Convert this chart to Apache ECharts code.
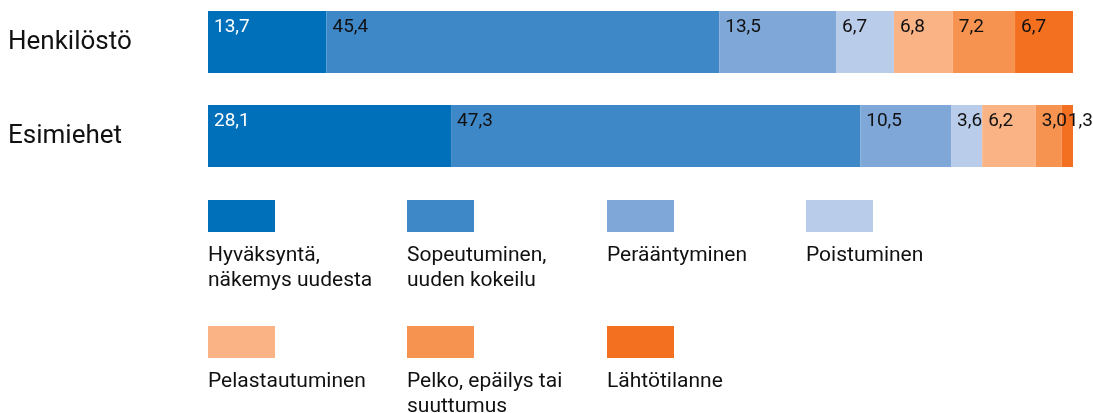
<!DOCTYPE html>
<html><head><meta charset="utf-8">
<script src="https://cdn.jsdelivr.net/npm/echarts@6/dist/echarts.min.js"></script>
<style>html,body{margin:0;padding:0;background:#fff;overflow:hidden}#c{position:absolute;left:0;top:-5px;width:1093px;height:418px}</style>
</head><body><div id="c"></div>
<script>
const categories = ['Henkilöstö', 'Esimiehet'];
const seriesNames = ['Hyväksyntä,\nnäkemys uudesta', 'Sopeutuminen,\nuuden kokeilu', 'Perääntyminen', 'Poistuminen', 'Pelastautuminen', 'Pelko, epäilys tai\nsuuttumus', 'Lähtötilanne'];
const colors = ['#0070ba', '#3f88c8', '#7fa8d8', '#b9cce9', '#fab385', '#f79350', '#f37021'];
const hyvaksynta = [13.7, 28.1];
const sopeutuminen = [45.4, 47.3];
const peraantyminen = [13.5, 10.5];
const poistuminen = [6.7, 3.6];
const pelastautuminen = [6.8, 6.2];
const pelko = [7.2, 3.0];
const lahtotilanne = [6.7, 1.3];
const values = [hyvaksynta, sopeutuminen, peraantyminen, poistuminen, pelastautuminen, pelko, lahtotilanne];

const FONT = 'Roboto';
const OFF = 5; // container shifted up by 5px
const series = values.map((v, i) => ({
  name: seriesNames[i],
  type: 'bar',
  stack: 'total',
  barWidth: 62,
  data: v,
  itemStyle: { color: colors[i] },
  label: {
    show: true,
    position: 'insideTopLeft',
    distance: 0,
    padding: [7, 0, 0, 6],
    formatter: p => p.value.toFixed(1).replace('.', ','),
    color: i === 0 ? '#fff' : '#111',
    fontFamily: FONT,
    fontSize: 19
  }
}));

const graphic = [];
const colX = [208, 407, 607, 806];
seriesNames.forEach((n, i) => {
  const row = Math.floor(i / 4), col = i % 4;
  const x = colX[col];
  const y = 200 + row * 126 + OFF;
  graphic.push({ type: 'rect', left: x, top: y, shape: { width: 67, height: 32 }, style: { fill: colors[i] } });
  graphic.push({ type: 'text', left: x, top: y + 43, style: { text: n, fill: '#111', font: '21px ' + FONT, lineHeight: 25 } });
});

const chart = echarts.init(document.getElementById('c'));
chart.setOption({
  animation: false,
  grid: { left: 208, right: 20, top: 0, height: 188, containLabel: false },
  xAxis: { type: 'value', min: 0, max: 100, show: false },
  yAxis: {
    type: 'category', data: categories, inverse: true,
    axisLine: { show: false }, axisTick: { show: false },
    axisLabel: { align: 'left', margin: 200, fontSize: 26, color: '#111', fontFamily: FONT }
  },
  series: series,
  graphic: graphic
});
</script></body></html>
